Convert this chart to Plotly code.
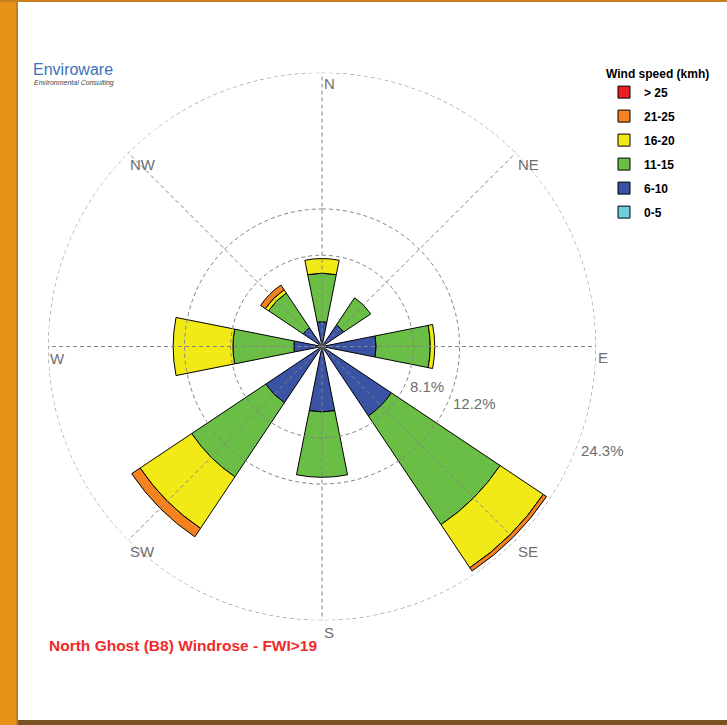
import math
import plotly.graph_objects as go

# ---------------- data ----------------
directions = ["N", "NE", "E", "SE", "S", "SW", "W", "NW"]
dir_angles = [0, 45, 90, 135, 180, 225, 270, 315]

speed_bins = ["0-5", "6-10", "11-15", "16-20", "21-25", "> 25"]
freq_0_5 = [0, 0, 0, 0, 0, 0, 0, 0]
freq_6_10 = [2.2, 2.3, 4.8, 7.4, 5.8, 6.0, 2.5, 2.0]
freq_11_15 = [4.3, 2.9, 4.8, 11.6, 5.8, 7.9, 5.4, 3.7]
freq_16_20 = [1.3, 0.0, 0.4, 4.6, 0.0, 5.5, 5.3, 0.35]
freq_21_25 = [0.0, 0.0, 0.0, 0.35, 0.0, 0.9, 0.0, 0.5]
freq_gt_25 = [0, 0, 0, 0, 0, 0, 0, 0]
bin_colors = ["#6DCFDC", "#3A53A4", "#6ABD45", "#F2EA17", "#F58220", "#EE1C25"]

ring_values = [8.1, 12.2, 24.3]
ring_labels = ["8.1%", "12.2%", "24.3%"]
r_max = 24.3
label_angle = 110.5  # compass angle of the ring labels

title_text = "North Ghost (B8) Windrose - FWI>19"
legend_title = "Wind speed (kmh)"

# ---------------- layout geometry ----------------
W, H = 727, 725
cx, cy, R = 322, 346.5, 274
dom_x = [(cx - R) / W, (cx + R) / W]
dom_y = [1 - (cy + R) / H, 1 - (cy - R) / H]


def to_paper(r, ang):
    a = math.radians(ang)
    f = r / r_max
    px = dom_x[0] + (dom_x[1] - dom_x[0]) * (0.5 + 0.5 * f * math.sin(a))
    py = dom_y[0] + (dom_y[1] - dom_y[0]) * (0.5 + 0.5 * f * math.cos(a))
    return px, py


fig = go.Figure()

series = [freq_0_5, freq_6_10, freq_11_15, freq_16_20, freq_21_25, freq_gt_25]
n_bins = len(speed_bins)
for i, (name, vals, col) in enumerate(zip(speed_bins, series, bin_colors)):
    fig.add_trace(go.Barpolar(
        r=vals, theta=dir_angles, width=22.5, name=name,
        legendgroup=name, legendrank=n_bins - i,
        marker=dict(color=col, line=dict(color="black", width=1)),
    ))

grid_col = "#848484"
# spokes
for ang in dir_angles:
    fig.add_trace(go.Scatterpolar(
        r=[0, r_max], theta=[ang, ang], mode="lines",
        line=dict(color=grid_col, width=1, dash="4px,3px"),
        showlegend=False, hoverinfo="skip", cliponaxis=False))
# rings
circle_theta = list(range(0, 361, 2))
for rv in ring_values:
    fig.add_trace(go.Scatterpolar(
        r=[rv] * len(circle_theta), theta=circle_theta, mode="lines",
        line=dict(color=grid_col, width=1, dash="4px,3px"),
        showlegend=False, hoverinfo="skip", cliponaxis=False))

annotations = []
lab_font = dict(family="Liberation Sans, Arial", size=15, color="#6E6E6E")
for d, ang in zip(directions, dir_angles):
    x, y = to_paper(r_max, ang)
    annotations.append(dict(x=x, y=y, xref="paper", yref="paper", text=d,
                            showarrow=False, xanchor="left", yanchor="top",
                            font=lab_font, yshift=-1))
for rv, lt in zip(ring_values, ring_labels):
    x, y = to_paper(rv, label_angle)
    annotations.append(dict(x=x, y=y, xref="paper", yref="paper", text=lt,
                            showarrow=False, xanchor="left", yanchor="top",
                            font=lab_font, yshift=2))

annotations.append(dict(x=47 / W, y=1 - 645 / H, xref="paper", yref="paper",
                        text=title_text, showarrow=False, xanchor="left",
                        yanchor="middle",
                        font=dict(family="Liberation Sans, Arial", size=15.5,
                                  color="#EE2A2A", weight="bold")))
annotations.append(dict(x=31 / W, y=1 - 70 / H, xref="paper", yref="paper",
                        text="Enviroware", showarrow=False, xanchor="left",
                        yanchor="middle",
                        font=dict(family="Liberation Sans, Arial", size=16,
                                  color="#3B74BA")))
annotations.append(dict(x=32 / W, y=1 - 82.5 / H, xref="paper", yref="paper",
                        text="<i>Environmental Consulting</i>", showarrow=False,
                        xanchor="left", yanchor="middle",
                        font=dict(family="Liberation Sans, Arial", size=7,
                                  color="#444444")))

shapes = [
    dict(type="rect", xref="paper", yref="paper", x0=0, x1=18 / W, y0=0, y1=1,
         fillcolor="#E8921A", line=dict(width=0)),
    dict(type="rect", xref="paper", yref="paper", x0=16 / W, x1=18 / W, y0=0, y1=1,
         fillcolor="#C77C17", line=dict(width=0)),
    dict(type="rect", xref="paper", yref="paper", x0=0, x1=1, y0=1 - 2 / H, y1=1,
         fillcolor="#C8801E", line=dict(width=0)),
    dict(type="rect", xref="paper", yref="paper", x0=18 / W, x1=1, y0=0, y1=5 / H,
         fillcolor="#7B5222", line=dict(width=0)),
]

fig.update_layout(
    width=W, height=H,
    margin=dict(l=0, r=0, t=0, b=0),
    paper_bgcolor="white",
    showlegend=True,
    polar=dict(
        domain=dict(x=dom_x, y=dom_y),
        bgcolor="white",
        barmode="stack",
        radialaxis=dict(range=[0, r_max], visible=False, showgrid=False),
        angularaxis=dict(direction="clockwise", rotation=90, showgrid=False,
                         showline=False, showticklabels=False, ticks="",
                         visible=False),
    ),
    legend=dict(
        x=604 / W, y=1 - 62 / H, xanchor="left", yanchor="top",
        traceorder="grouped", tracegroupgap=5,
        title=dict(text=legend_title,
                   font=dict(family="Liberation Sans, Arial", size=12,
                             color="black", weight="bold")),
        font=dict(family="Liberation Sans, Arial", size=12, color="black",
                  weight="bold"),
        bgcolor="rgba(0,0,0,0)",
    ),
    annotations=annotations,
    shapes=shapes,
)

fig.write_html("out.html",
               config={"displayModeBar": False},
               post_script="document.body.style.margin='0';"
                           "document.body.style.overflow='hidden';")
